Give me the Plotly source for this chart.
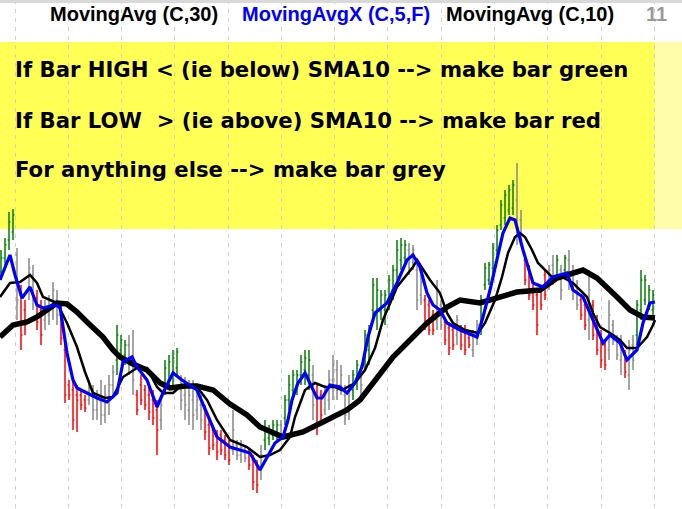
import plotly.graph_objects as go

# ---------------- data ----------------
bar_high = [7.50, 7.62, 7.88, 7.91, 7.52, 7.15, 7.00, 7.42, 7.35, 7.10,
            7.00, 7.00, 7.05, 7.18, 7.10, 6.95, 6.60, 6.20, 6.20, 6.15,
            6.10, 6.05, 6.20, 6.15, 6.10, 6.20, 6.15, 6.25, 6.35, 6.75,
            6.65, 6.60, 6.65, 6.70, 6.10, 6.25, 6.15, 6.15, 6.10, 6.00,
            6.05, 6.40, 6.45, 6.50, 6.52, 6.25, 6.23, 6.20, 6.20, 6.10,
            6.05, 5.95, 5.80, 5.75, 5.70, 5.70, 5.65, 5.60, 5.90, 5.60,
            5.60, 5.55, 5.52, 5.45, 5.40, 5.55, 5.80, 5.75, 5.80, 5.80,
            5.80, 6.05, 6.25, 6.30, 6.30, 6.45, 6.50, 6.50, 6.35, 6.15,
            6.10, 6.15, 6.30, 6.45, 6.40, 6.35, 6.15, 6.25, 6.30, 6.40,
            6.35, 6.70, 6.75, 7.22, 7.22, 7.10, 7.10, 7.25, 7.35, 7.60,
            7.62, 7.60, 7.57, 7.55, 7.40, 7.25, 7.05, 7.00, 6.90, 7.20,
            7.00, 6.82, 6.78, 6.75, 6.85, 6.75, 6.75, 6.65, 6.70, 6.80,
            7.05, 7.37, 7.38, 7.57, 7.75, 8.00, 8.10, 8.15, 8.20, 8.37,
            7.90, 7.45, 7.35, 7.15, 7.10, 7.15, 7.30, 7.35, 7.45, 7.45,
            7.35, 7.45, 7.50, 7.35, 7.20, 7.05, 7.00, 7.30, 7.00, 6.85,
            6.70, 6.60, 7.00, 6.80, 6.65, 6.65, 6.50, 6.60, 6.65, 7.00,
            7.30, 7.25, 7.15, 7.10]

bar_low = [7.20, 7.35, 7.50, 7.60, 6.80, 6.50, 6.65, 7.00, 6.90, 6.70,
           6.55, 6.70, 6.75, 6.80, 6.75, 6.55, 5.97, 6.00, 5.70, 5.68,
           5.90, 5.88, 5.95, 5.80, 5.80, 5.75, 5.77, 5.85, 6.05, 6.25,
           6.40, 6.35, 6.25, 6.05, 5.85, 5.95, 5.90, 5.80, 5.75, 5.45,
           5.70, 6.05, 6.10, 6.15, 6.25, 5.90, 5.80, 5.75, 5.70, 5.80,
           5.70, 5.60, 5.45, 5.50, 5.40, 5.45, 5.40, 5.35, 5.45, 5.40,
           5.37, 5.38, 5.30, 5.10, 5.07, 5.20, 5.50, 5.55, 5.60, 5.60,
           5.60, 5.75, 5.90, 6.00, 6.05, 6.15, 6.15, 6.10, 5.80, 5.65,
           5.80, 5.85, 5.90, 6.00, 6.00, 6.05, 5.75, 5.80, 6.00, 6.10,
           6.05, 6.30, 6.35, 6.80, 6.70, 6.80, 6.75, 6.90, 7.00, 7.20,
           7.30, 7.35, 7.25, 7.30, 6.90, 6.95, 6.70, 6.65, 6.65, 6.70,
           6.70, 6.55, 6.45, 6.50, 6.55, 6.50, 6.45, 6.52, 6.43, 6.55,
           6.65, 7.10, 7.15, 7.25, 7.45, 7.70, 7.75, 7.85, 7.85, 7.55,
           7.55, 7.15, 7.00, 6.90, 6.65, 6.90, 7.00, 7.10, 7.15, 7.20,
           7.00, 7.25, 7.10, 7.00, 6.90, 6.80, 6.70, 6.60, 6.60, 6.45,
           6.32, 6.30, 6.40, 6.55, 6.40, 6.25, 6.22, 6.10, 6.30, 6.55,
           6.80, 6.95, 6.90, 6.85]

bar_open = [7.28, 7.42, 7.60, 7.68, 7.45, 7.05, 6.90, 7.10, 7.25, 7.02,
            6.90, 6.80, 6.85, 6.95, 7.00, 6.85, 6.50, 6.15, 6.10, 6.05,
            6.05, 6.00, 6.00, 6.08, 5.90, 6.00, 5.85, 6.00, 6.15, 6.40,
            6.50, 6.45, 6.55, 6.40, 6.05, 6.15, 6.10, 6.05, 6.00, 5.90,
            5.80, 6.15, 6.20, 6.25, 6.32, 6.20, 6.05, 5.90, 6.00, 5.90,
            5.95, 5.90, 5.75, 5.70, 5.65, 5.65, 5.60, 5.55, 5.50, 5.55,
            5.45, 5.50, 5.48, 5.40, 5.35, 5.30, 5.60, 5.62, 5.65, 5.68,
            5.75, 5.82, 6.00, 6.10, 6.15, 6.25, 6.30, 6.25, 6.25, 6.05,
            6.05, 5.90, 6.00, 6.20, 6.30, 6.15, 6.05, 5.90, 6.10, 6.20,
            6.30, 6.40, 6.50, 6.90, 6.85, 6.88, 6.90, 7.00, 7.10, 7.30,
            7.40, 7.42, 7.50, 7.38, 7.30, 7.05, 7.00, 6.95, 6.85, 6.80,
            6.95, 6.78, 6.72, 6.70, 6.65, 6.70, 6.70, 6.62, 6.50, 6.65,
            6.75, 7.15, 7.20, 7.32, 7.50, 7.75, 7.82, 7.90, 7.92, 8.00,
            7.80, 7.40, 7.30, 7.10, 7.05, 7.10, 7.25, 7.15, 7.35, 7.25,
            7.30, 7.30, 7.40, 7.10, 7.15, 7.00, 6.95, 6.80, 6.95, 6.80,
            6.65, 6.55, 6.50, 6.75, 6.60, 6.40, 6.45, 6.25, 6.55, 6.65,
            6.90, 7.00, 6.95, 6.90]

bar_close = [7.42, 7.55, 7.78, 7.85, 7.00, 6.65, 6.75, 7.32, 7.00, 6.78,
             6.65, 6.92, 7.00, 7.10, 6.85, 6.62, 6.05, 6.05, 5.80, 6.00,
             5.95, 5.92, 6.12, 5.90, 6.02, 5.85, 6.05, 6.15, 6.28, 6.65,
             6.60, 6.55, 6.35, 6.20, 5.90, 6.00, 5.95, 5.88, 5.82, 5.70,
             5.95, 6.32, 6.38, 6.42, 6.48, 6.00, 5.95, 6.05, 5.85, 6.00,
             5.80, 5.68, 5.52, 5.55, 5.48, 5.50, 5.45, 5.40, 5.70, 5.45,
             5.52, 5.42, 5.35, 5.18, 5.15, 5.45, 5.72, 5.70, 5.75, 5.75,
             5.65, 6.00, 6.15, 6.25, 6.25, 6.38, 6.42, 6.40, 5.95, 5.75,
             5.85, 6.05, 6.20, 6.35, 6.10, 6.25, 5.85, 6.15, 6.25, 6.35,
             6.15, 6.65, 6.70, 7.15, 7.10, 7.05, 7.05, 7.20, 7.30, 7.50,
             7.55, 7.55, 7.32, 7.50, 7.00, 7.18, 6.75, 6.70, 6.70, 7.10,
             6.75, 6.60, 6.52, 6.55, 6.80, 6.55, 6.50, 6.55, 6.65, 6.75,
             7.00, 7.32, 7.35, 7.52, 7.70, 7.95, 8.05, 8.10, 8.15, 7.70,
             7.60, 7.20, 7.05, 6.95, 6.75, 6.95, 7.05, 7.30, 7.20, 7.40,
             7.10, 7.42, 7.20, 7.25, 6.95, 6.85, 6.75, 7.10, 6.65, 6.50,
             6.40, 6.35, 6.85, 6.60, 6.45, 6.55, 6.28, 6.50, 6.40, 6.95,
             7.20, 7.20, 7.10, 7.05]

# G = green, R = red, N = grey (neutral)
bar_color = list("GGGGNRRNNR" "RNNNNRRRRR" "RRNNNNNNNG" "GGNNRRRRRR"
                 "NGGGGNNNNN" "NRRRRRRRNN" "NNRRRNGGGG" "NGGGGGGGNR"
                 "RNNNNNNNGG" "NGGGGGGGGG" "GGNNNNRRRN" "NRRRNRRRNN"
                 "GGGGGGGGGN" "NRRRRRRNNG" "NGNNNRRNRR" "RRNNNNRNNG"
                 "GGGG")

# MovingAvg (C,30)
sma30_x = [-0.25, 3, 6.5, 9, 11.5, 14, 16.5, 19, 21.5, 23.5, 25.5, 28, 29.75,
           33, 36.5, 39.75, 42.25, 46, 49, 53, 57.25, 61.5, 64.75, 70.5, 75.5,
           81.5, 86.5, 89.75, 94, 98, 103, 106.5, 111.5, 114.75, 119.75, 124,
           129, 134.75, 139, 145.5, 149, 154, 157.25, 160.5, 163.5]
sma30_y = [6.63, 6.75, 6.78, 6.83, 6.90, 6.97, 6.96, 6.88, 6.78, 6.70, 6.63,
           6.50, 6.43, 6.36, 6.30, 6.17, 6.12, 6.14, 6.14, 6.10, 5.96, 5.85,
           5.73, 5.63, 5.68, 5.80, 5.90, 6.00, 6.23, 6.43, 6.63, 6.77, 6.93,
           7.00, 6.97, 7.02, 7.08, 7.10, 7.22, 7.30, 7.22, 7.03, 6.90, 6.83,
           6.82]

# MovingAvgX (C,5,F)
mavx_x = [-0.25, 2.25, 3.5, 5.25, 7.25, 9, 10.5, 13.5, 14.75, 16.5, 18, 19,
          21.5, 24, 26.5, 29, 30.5, 32.75, 34, 36.5, 39, 40.5, 43, 45.25, 49,
          51.5, 54, 57.25, 62.25, 64.75, 66.5, 68.5, 70.5, 71.75, 72.75,
          74.25, 76, 77.75, 79, 80.25, 82.25, 84.75, 86.5, 88.5, 90.25,
          91.75, 93.5, 96.5, 99, 101.5, 103, 104.75, 106.5, 108, 109.75,
          111.5, 114.75, 119, 120.5, 122.25, 124, 125.5, 127.25, 128.5,
          130.5, 133, 135.5, 138, 141.5, 143, 145.5, 149, 150.5, 152.25,
          154.75, 156.5, 159, 160.5, 162.25, 163.5]
mavx_y = [7.20, 7.45, 7.25, 7.02, 7.13, 6.95, 6.92, 6.95, 6.93, 6.47, 6.20,
          6.12, 6.07, 6.02, 5.98, 6.07, 6.38, 6.43, 6.33, 6.20, 5.93, 6.07,
          6.27, 6.20, 6.10, 5.87, 5.63, 5.53, 5.47, 5.30, 5.43, 5.57, 5.63,
          5.80, 6.00, 6.17, 6.27, 6.13, 6.02, 6.02, 6.15, 6.13, 6.07, 6.17,
          6.33, 6.63, 6.87, 6.97, 7.17, 7.40, 7.45, 7.33, 7.07, 6.95, 6.90,
          6.77, 6.70, 6.63, 6.83, 7.10, 7.40, 7.67, 7.82, 7.80, 7.50, 7.17,
          7.13, 7.23, 7.27, 7.10, 7.03, 6.70, 6.57, 6.65, 6.57, 6.40, 6.50,
          6.77, 6.97, 6.98]

# MovingAvg (C,10)
sma10_x = [-0.25, 2.25, 4.75, 7.25, 9, 10.5, 14, 16.5, 19, 21, 23, 26, 28,
           30.5, 34, 36.5, 39, 40.5, 43, 45.25, 49, 51.5, 54, 57.25, 61.5,
           64.75, 67.25, 69.75, 72.25, 73.5, 76, 78.5, 81, 83.5, 85.25, 88.5,
           91, 93.5, 95.5, 99, 103, 104, 107.25, 109.75, 111.5, 113, 116,
           119.25, 121, 123.5, 125.25, 126.75, 128.5, 129.75, 131, 132.75,
           134.25, 136, 137.75, 140.25, 143, 146.5, 148, 149.75, 152.25,
           154.75, 156.5, 159, 161.5, 163, 163.5]
sma10_y = [7.03, 7.17, 7.18, 7.25, 7.17, 7.03, 6.97, 6.77, 6.53, 6.28, 6.07,
           6.02, 6.03, 6.23, 6.32, 6.32, 6.13, 6.07, 6.07, 6.15, 6.13, 6.00,
           5.80, 5.60, 5.53, 5.43, 5.45, 5.50, 5.63, 5.83, 6.10, 6.17, 6.13,
           6.13, 6.10, 6.17, 6.30, 6.52, 6.80, 7.13, 7.33, 7.40, 7.20, 7.07,
           6.87, 6.77, 6.70, 6.67, 6.77, 7.00, 7.23, 7.47, 7.63, 7.67, 7.63,
           7.50, 7.37, 7.30, 7.23, 7.23, 7.17, 7.03, 6.87, 6.73, 6.67, 6.60,
           6.52, 6.52, 6.63, 6.75, 6.80]

legend_labels = ["MovingAvg (C,30)", "MovingAvgX (C,5,F)", "MovingAvg (C,10)", "11"]
note_lines = ["If Bar HIGH < (ie below) SMA10 --> make bar green",
              "If Bar LOW\u00a0 > (ie above) SMA10 --> make bar red",
              "For anything else --> make bar grey"]

# ---------------- figure ----------------
W, H = 682, 509
COLORS = {"G": "#008000", "R": "#ff0000", "N": "#888888"}

fig = go.Figure()

bar_x = list(range(len(bar_high)))
for code in ["N", "R", "G"]:
    idx = [i for i, c in enumerate(bar_color) if c == code]
    col = COLORS[code]
    fig.add_trace(go.Ohlc(
        x=[bar_x[i] for i in idx],
        open=[bar_open[i] for i in idx],
        high=[bar_high[i] for i in idx],
        low=[bar_low[i] for i in idx],
        close=[bar_close[i] for i in idx],
        increasing=dict(line=dict(color=col, width=1.5)),
        decreasing=dict(line=dict(color=col, width=1.5)),
        tickwidth=0.35, hoverinfo="skip", showlegend=False))

fig.add_trace(go.Scatter(x=sma30_x, y=sma30_y, mode="lines",
                         line=dict(color="#000000", width=5.5), showlegend=False))
fig.add_trace(go.Scatter(x=sma10_x, y=sma10_y, mode="lines",
                         line=dict(color="#000000", width=2.5), showlegend=False))
fig.add_trace(go.Scatter(x=mavx_x, y=mavx_y, mode="lines",
                         line=dict(color="#0000ff", width=3.2), showlegend=False))

def py(pix):
    return 1 - pix / H

shapes = [
    dict(type="rect", xref="paper", yref="paper", x0=0, x1=655 / W,
         y0=py(229), y1=py(42), fillcolor="#ffff55", line=dict(width=0), layer="below"),
    dict(type="rect", xref="paper", yref="paper", x0=655 / W, x1=1,
         y0=py(229), y1=py(42), fillcolor="#fffcaa", line=dict(width=0), layer="below"),
    dict(type="rect", xref="paper", yref="paper", x0=0, x1=1,
         y0=py(3), y1=1, fillcolor="#d9d9d9", line=dict(width=0), layer="above"),
]

annotations = []
leg_x = [48, 240, 444, 644]
leg_c = ["#000000", "#0000ff", "#000000", "#999999"]
for t, xx, cc in zip(legend_labels, leg_x, leg_c):
    annotations.append(dict(text=t, xref="paper", yref="paper", x=xx / W, y=py(14),
                            xanchor="left", yanchor="middle", showarrow=False,
                            font=dict(family="Liberation Sans", size=20, color=cc, weight="bold")))
for t, yy in zip(note_lines, [70, 120, 170]):
    annotations.append(dict(text=t, xref="paper", yref="paper", x=13 / W, y=py(yy),
                            xanchor="left", yanchor="middle", showarrow=False,
                            font=dict(family="DejaVu Sans", size=21.2, color="#000000", weight="bold")))

fig.update_layout(
    width=W, height=H, margin=dict(l=0, r=0, t=0, b=0),
    paper_bgcolor="#ffffff", plot_bgcolor="rgba(0,0,0,0)",
    shapes=shapes, annotations=annotations, showlegend=False,
    xaxis=dict(range=[-0.25, 170.25], showgrid=True, gridcolor="#cfcfcf", gridwidth=1,
               griddash="4px,5px", tick0=3.5, dtick=13.32, showticklabels=False,
               ticks="", zeroline=False, showline=False, rangeslider=dict(visible=False),
               fixedrange=True),
    yaxis=dict(range=[4.91, 10.0], showgrid=False, showticklabels=False, ticks="",
               zeroline=False, showline=False, fixedrange=True),
)

fig.write_html("out.html", config={"displayModeBar": False},
               post_script="document.body.style.margin='0px';")
